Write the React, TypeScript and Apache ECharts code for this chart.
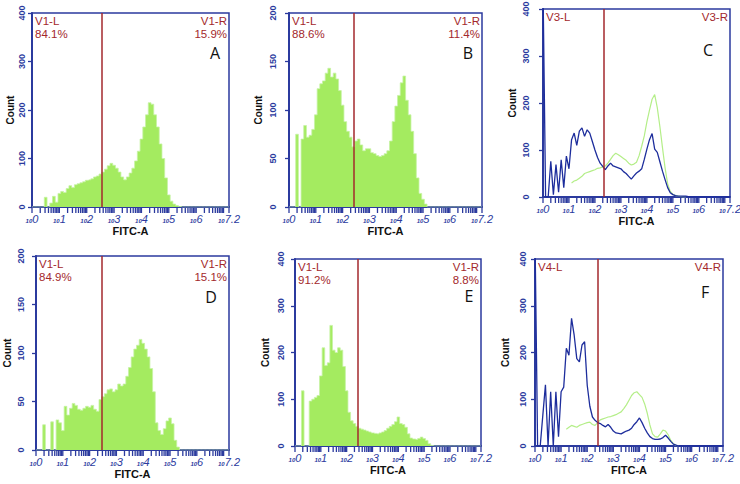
import React, { useEffect, useRef } from "react";
import * as echarts from "echarts";

// Histogram channels are 0.1 decade wide, from 10^0 to 10^7.2 (73 channels).
const BIN_STEP = 0.1;
const X_TICK_LABELS = ["0", "1", "2", "3", "4", "5", "6", "7.2"];
const Y_TICKS_400 = [0, 100, 200, 300, 400];
const Y_TICKS_200 = [0, 50, 100, 150, 200];

// Panel A – FITC-A counts
const countsA = [
  0, 0, 0, 0, 0, 20, 0, 8, 22, 10,
  28, 32, 30, 38, 44, 40, 46, 48, 50, 52,
  55, 56, 58, 62, 64, 68, 72, 78, 85, 90,
  86, 80, 72, 62, 56, 62, 70, 80, 95, 115,
  140, 165, 190, 215, 212, 190, 165, 130, 100, 60,
  25, 12, 6, 3, 1, 0, 0, 0, 0, 0,
  0, 0, 0, 0, 0, 0, 0, 0, 0, 0,
  0, 0, 0,
];

// Panel B
const countsB = [
  0, 0, 0, 75, 0, 70, 84, 72, 74, 80,
  95, 122, 127, 130, 138, 143, 134, 138, 132, 120,
  105, 88, 78, 72, 62, 68, 70, 64, 58, 60,
  60, 56, 55, 53, 52, 53, 55, 58, 68, 88,
  104, 115, 128, 135, 110, 95, 78, 55, 30, 14,
  8, 3, 0, 0, 0, 0, 0, 0, 0, 0,
  0, 0, 0, 0, 0, 0, 0, 0, 0, 0,
  0, 0, 0,
];

// Panel C – sample (blue) over control (green)
const countsCSample = [
  450, 0, 0, 76, 5, 69, 10, 79, 20, 87,
  60, 122, 136, 110, 140, 147, 129, 143, 136, 118,
  100, 84, 72, 65, 58, 66, 72, 66, 64, 62,
  60, 54, 50, 44, 38, 45, 51, 55, 60, 80,
  102, 122, 135, 102, 95, 75, 55, 37, 20, 9,
  5, 3, 2, 2, 2, 2, 1, 0, 0, 0,
  0, 0, 0, 0, 0, 0, 0, 0, 0, 0,
  0, 0, 0,
];
const countsCControl = [
  null, null, null, null, null, null, null, null, null, null,
  null, 30, 34, 36, 40, 44, 50, 52, 54, 56,
  58, 61, 62, 64, 66, 72, 80, 88, 93, 90,
  86, 82, 78, 72, 68, 70, 74, 88, 108, 130,
  160, 185, 208, 218, 190, 150, 105, 62, 28, 12,
  6, 3, 2, 1, 0, 0, null, null, null, null,
  null, null, null, null, null, null, null, null, null, null,
  null, null, null,
];

// Panel D
const countsD = [
  0, 0, 0, 26, 0, 0, 29, 0, 31, 28,
  20, 45, 36, 43, 48, 46, 42, 41, 43, 45,
  44, 46, 42, 40, 52, 55, 58, 62, 63, 60,
  62, 68, 66, 68, 76, 85, 96, 104, 108, 114,
  110, 104, 96, 84, 60, 28, 20, 16, 22, 30,
  33, 27, 10, 3, 0, 0, 0, 0, 0, 0,
  0, 0, 0, 0, 0, 0, 0, 0, 0, 0,
  0, 0, 0,
];

// Panel E
const countsE = [
  0, 0, 0, 118, 0, 0, 96, 100, 104, 108,
  150, 210, 172, 178, 258, 205, 200, 210, 205, 170,
  118, 72, 54, 48, 42, 38, 36, 34, 32, 30,
  28, 27, 26, 28, 30, 33, 38, 42, 46, 52,
  62, 48, 46, 40, 26, 17, 15, 14, 16, 19,
  16, 12, 5, 1, 0, 0, 0, 0, 0, 0,
  0, 0, 0, 0, 0, 0, 0, 0, 0, 0,
  0, 0, 0,
];

// Panel F – sample (blue) over control (green)
const countsFSample = [
  450, 0, 0, 66, 131, 0, 116, 0, 116, 20,
  116, 126, 209, 194, 273, 237, 187, 180, 216, 223,
  130, 85, 62, 55, 50, 48, 44, 41, 46, 40,
  32, 28, 27, 26, 29, 32, 34, 38, 46, 52,
  60, 50, 38, 28, 20, 16, 14, 14, 15, 18,
  23, 17, 10, 4, 2, 0, 0, 0, 0, 0,
  0, 0, 0, 0, 0, 0, 0, 0, 0, 0,
  0, 0, 0,
];
const countsFControl = [
  null, null, null, null, null, null, null, null, null, null,
  null, null, 36, 40, 44, 42, 40, 44, 46, 48,
  50, 51, 46, 44, 50, 56, 58, 60, 62, 63,
  65, 67, 70, 73, 80, 88, 98, 108, 114, 116,
  110, 104, 90, 70, 45, 26, 20, 19, 26, 34,
  32, 24, 12, 5, 1, 0, null, null, null, null,
  null, null, null, null, null, null, null, null, null, null,
  null, null, null,
];

// Gate marker positions (decades) and region statistics
const gateNames = ["V1", "V1", "V3", "V1", "V1", "V4"];
const gatePositions = [2.54, 2.42, 2.35, 2.44, 2.41, 2.39];
const leftPercents = ["84.1%", "88.6%", "", "84.9%", "91.2%", ""];
const rightPercents = ["15.9%", "11.4%", "", "15.1%", "8.8%", ""];
const panelLetters = ["A", "B", "C", "D", "E", "F"];

const BLUE = "#2b3a9e";
const RED = "#a3282c";
const GREEN_FILL = "#a4eb60";
const GREEN_EDGE = "#c6f2a4";
const GREEN_LINE = "#b4ee88";
const BLUE_LINE = "#1d2d9c";
const SANS = '"Liberation Sans", Arial, sans-serif';

type Panel = {
  fill?: (number | null)[];
  control?: (number | null)[];
  sample?: (number | null)[];
  yTicks: number[];
};

const panels: Panel[] = [
  { fill: countsA, yTicks: Y_TICKS_400 },
  { fill: countsB, yTicks: Y_TICKS_200 },
  { control: countsCControl, sample: countsCSample, yTicks: Y_TICKS_400 },
  { fill: countsD, yTicks: Y_TICKS_200 },
  { fill: countsE, yTicks: Y_TICKS_400 },
  { control: countsFControl, sample: countsFSample, yTicks: Y_TICKS_400 },
];

// Plot rectangles and axis spacing for each panel
const layout = [
  { left: 32, top: 13, width: 197, height: 194, countGap: 17, yLabelGap: 6, letter: [215, 53] },
  { left: 289, top: 13, width: 193, height: 194, countGap: 26, yLabelGap: 12, letter: [468, 53] },
  { left: 543, top: 9, width: 187, height: 188, countGap: 26, yLabelGap: 13, letter: [708, 50] },
  { left: 36, top: 256, width: 193, height: 194, countGap: 24, yLabelGap: 11, letter: [211, 297] },
  { left: 295, top: 259, width: 186, height: 187, countGap: 25, yLabelGap: 10, letter: [469, 296] },
  { left: 535, top: 259, width: 188, height: 187, countGap: 25, yLabelGap: 8, letter: [705, 292] },
];

const toPoints = (values: (number | null)[]) =>
  values.map((v, i) => [Number((i * BIN_STEP).toFixed(1)), v]);

// Log-decade tick positions: 1..9 x 10^n, expressed in decades
const decadeTicks: number[] = [];
for (let n = 0; n <= 7; n++) {
  for (let k = 1; k <= 9; k++) {
    const v = n + Math.log10(k);
    if (v <= 7.2 + 1e-9) decadeTicks.push(Number(v.toFixed(4)));
  }
}
decadeTicks.push(7.2);
const labelValues = X_TICK_LABELS.map((s) => parseFloat(s));

function buildOption() {
  const grid: any[] = [];
  const xAxis: any[] = [];
  const yAxis: any[] = [];
  const series: any[] = [];
  const graphic: any[] = [];

  panels.forEach((p, i) => {
    const l = layout[i];
    const yMax = p.yTicks[p.yTicks.length - 1];
    grid.push({
      left: l.left,
      top: l.top,
      width: l.width,
      height: l.height,
      show: true,
      borderColor: BLUE,
      borderWidth: 1.5,
      containLabel: false,
      outerBoundsMode: "none",
    });
    xAxis.push({
      gridIndex: i,
      type: "value",
      min: 0,
      max: 7.2,
      name: "FITC-A",
      nameLocation: "middle",
      nameGap: 18,
      nameTextStyle: { color: "#111", fontFamily: SANS, fontWeight: "bold", fontSize: 11 },
      axisLine: { show: true, lineStyle: { color: BLUE, width: 2 } },
      axisTick: { show: false },
      axisLabel: {
        customValues: labelValues,
        margin: 6,
        formatter: (v: number) => {
          const idx = labelValues.findIndex((t) => Math.abs(t - v) < 1e-6);
          const exp = idx >= 0 ? X_TICK_LABELS[idx] : String(v);
          return `{s|10}{e|${exp}}`;
        },
        rich: {
          s: { fontSize: 6, fontStyle: "italic", fontWeight: "bold", color: BLUE, fontFamily: SANS, verticalAlign: "bottom", padding: [4, 0, 0, 0] },
          e: { fontSize: 11, fontStyle: "italic", color: BLUE, fontFamily: SANS, verticalAlign: "bottom" },
        },
      },
      splitLine: { show: false },
    });
    yAxis.push({
      gridIndex: i,
      type: "value",
      min: 0,
      max: yMax,
      interval: p.yTicks[1] - p.yTicks[0],
      name: "Count",
      nameLocation: "middle",
      nameGap: l.countGap,
      nameTextStyle: { color: "#111", fontFamily: SANS, fontWeight: "bold", fontSize: 10 },
      axisLine: { show: true, lineStyle: { color: BLUE, width: 2 } },
      axisTick: { show: true, length: 4, lineStyle: { color: BLUE, width: 1.3 } },
      axisLabel: {
        rotate: 90,
        margin: l.yLabelGap,
        color: BLUE,
        fontFamily: SANS,
        fontWeight: "bold",
        fontSize: 9,
      },
      splitLine: { show: false },
    });

    const gateLine = {
      silent: true,
      symbol: ["none", "none"],
      label: { show: false },
      lineStyle: { color: RED, width: 1.5, type: "solid" },
      data: [{ xAxis: gatePositions[i] }],
    };

    if (p.fill) {
      series.push({
        type: "line",
        xAxisIndex: i,
        yAxisIndex: i,
        data: toPoints(p.fill),
        step: "middle",
        showSymbol: false,
        lineStyle: { color: GREEN_EDGE, width: 0.8 },
        areaStyle: { color: GREEN_FILL, opacity: 1 },
        markLine: gateLine,
      });
    } else {
      series.push({
        type: "line",
        xAxisIndex: i,
        yAxisIndex: i,
        data: toPoints(p.control || []),
        showSymbol: false,
        connectNulls: false,
        lineStyle: { color: GREEN_LINE, width: 1.2 },
        markLine: gateLine,
      });
      series.push({
        type: "line",
        xAxisIndex: i,
        yAxisIndex: i,
        data: toPoints(p.sample || []),
        showSymbol: false,
        clip: true,
        lineStyle: { color: BLUE_LINE, width: 1.3 },
      });
    }

    // Logarithmic tick marks below the FITC-A axis, placed through the axis scale
    series.push({
      type: "custom",
      xAxisIndex: i,
      yAxisIndex: i,
      silent: true,
      clip: false,
      data: decadeTicks.map((v) => [v, 0]),
      encode: { x: 0, y: 1 },
      renderItem: (_params: any, api: any) => {
        const pt = api.coord([api.value(0), 0]);
        return {
          type: "line",
          shape: { x1: pt[0], y1: pt[1] + 1, x2: pt[0], y2: pt[1] + 6 },
          style: { stroke: BLUE, lineWidth: 1.3 },
        };
      },
      z: 5,
    });

    const leftLines = [gateNames[i] + "-L", leftPercents[i]].filter((s) => s);
    const rightLines = [gateNames[i] + "-R", rightPercents[i]].filter((s) => s);
    leftLines.forEach((t, k) => {
      graphic.push({
        type: "text",
        x: l.left + 3,
        y: l.top + 2 + k * 13,
        silent: true,
        style: { text: t, fill: RED, fontFamily: SANS, fontSize: 11.5, align: "left", verticalAlign: "top" },
        z: 100,
      });
    });
    rightLines.forEach((t, k) => {
      graphic.push({
        type: "text",
        x: l.left + l.width - 2,
        y: l.top + 2 + k * 13,
        silent: true,
        style: { text: t, fill: RED, fontFamily: SANS, fontSize: 11.5, align: "right", verticalAlign: "top" },
        z: 100,
      });
    });
    graphic.push({
      type: "text",
      x: l.letter[0],
      y: l.letter[1],
      silent: true,
      style: { text: panelLetters[i], fill: "#111", fontFamily: '"Open Sans", sans-serif', fontSize: 16, align: "center", verticalAlign: "middle" },
      z: 100,
    });
  });

  return {
    animation: false,
    backgroundColor: "#ffffff",
    grid,
    xAxis,
    yAxis,
    series,
    graphic,
  };
}

export default function App() {
  const ref = useRef<HTMLDivElement | null>(null);

  useEffect(() => {
    if (!ref.current) return;
    const chart = echarts.init(ref.current, undefined, { renderer: "svg" });
    chart.setOption(buildOption() as any);
    return () => chart.dispose();
  }, []);

  return (
    <div
      ref={ref}
      style={{ position: "fixed", left: 0, top: 0, width: 740, height: 484, background: "#fff" }}
    />
  );
}
